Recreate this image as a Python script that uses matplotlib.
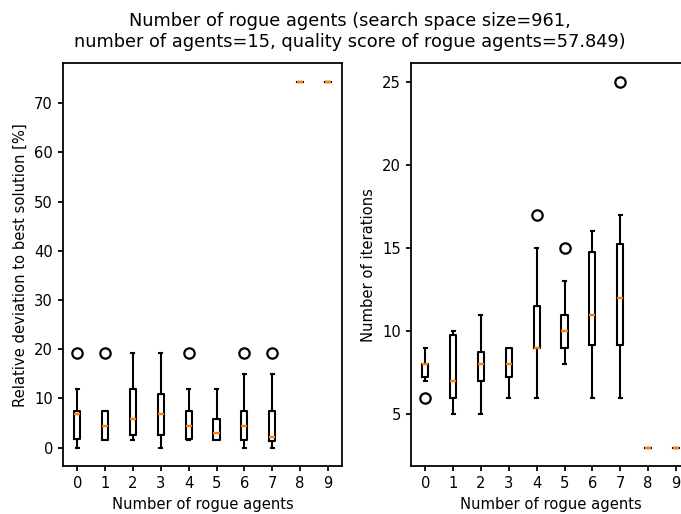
import matplotlib
matplotlib.use("Agg")
import matplotlib.pyplot as plt

rogue = [0, 1, 2, 3, 4, 5, 6, 7, 8, 9]

# relative deviation to best solution [%]
dev_med = [6.75, 4.46, 5.9, 6.75, 4.46, 3.0, 4.46, 2.2, 74.4, 74.4]
dev_q1 = [1.8, 1.55, 2.6, 2.6, 1.8, 1.55, 1.55, 1.3, 74.4, 74.4]
dev_q3 = [7.5, 7.5, 11.9, 10.9, 7.5, 5.9, 7.5, 7.5, 74.4, 74.4]
dev_lo = [0.0, 1.55, 1.55, 0.0, 1.55, 1.55, 0.0, 0.0, 74.4, 74.4]
dev_hi = [11.9, 7.5, 19.3, 19.3, 11.9, 11.9, 15.0, 15.0, 74.4, 74.4]
dev_out = [[19.3], [19.3], [], [], [19.3], [], [19.3], [19.3], [], []]

# number of iterations
it_med = [8, 7, 8, 8, 9, 10, 11, 12, 3, 3]
it_q1 = [7.25, 6, 7, 7.25, 9, 9, 9.2, 9.2, 3, 3]
it_q3 = [8, 9.75, 8.75, 9, 11.5, 11, 14.75, 15.25, 3, 3]
it_lo = [7, 5, 5, 6, 6, 8, 6, 6, 3, 3]
it_hi = [9, 10, 11, 9, 15, 13, 16, 17, 3, 3]
it_out = [[6], [], [], [], [17], [15], [], [25], [], []]


def stats(med, q1, q3, lo, hi, out):
    return [dict(med=m, q1=a, q3=b, whislo=l, whishi=h, fliers=f)
            for m, a, b, l, h, f in zip(med, q1, q3, lo, hi, out)]


plt.rcParams['axes.linewidth'] = 1.2
plt.rcParams['xtick.major.width'] = 1.2
plt.rcParams['ytick.major.width'] = 1.2

fig = plt.figure(figsize=(681 / 106.4, 514 / 106.4), dpi=106.4)
ax1 = fig.add_axes([0.093, 0.0934, 0.409, 0.7835])
ax2 = fig.add_axes([0.604, 0.0934, 0.409, 0.7835])

line = dict(linewidth=1.4, color='black')
style = dict(positions=rogue, widths=0.22,
             boxprops=line, whiskerprops=line, capprops=line,
             medianprops=dict(linewidth=1.6, color='#ff7f0e', zorder=5),
             flierprops=dict(marker='o', markersize=7, markeredgewidth=1.5,
                             markerfacecolor='none', markeredgecolor='black'))

ax1.bxp(stats(dev_med, dev_q1, dev_q3, dev_lo, dev_hi, dev_out), **style)
ax2.bxp(stats(it_med, it_q1, it_q3, it_lo, it_hi, it_out), **style)

for ax in (ax1, ax2):
    ax.set_xticks(rogue)
    ax.set_xticklabels([str(r) for r in rogue])
    ax.set_xlabel('Number of rogue agents')

ax1.set_ylabel('Relative deviation to best solution [%]')
ax2.set_ylabel('Number of iterations')

fig.suptitle('Number of rogue agents (search space size=961,\n'
             'number of agents=15, quality score of rogue agents=57.849)',
             x=0.514, y=0.976)

fig.savefig('out.png', dpi=106.4)
